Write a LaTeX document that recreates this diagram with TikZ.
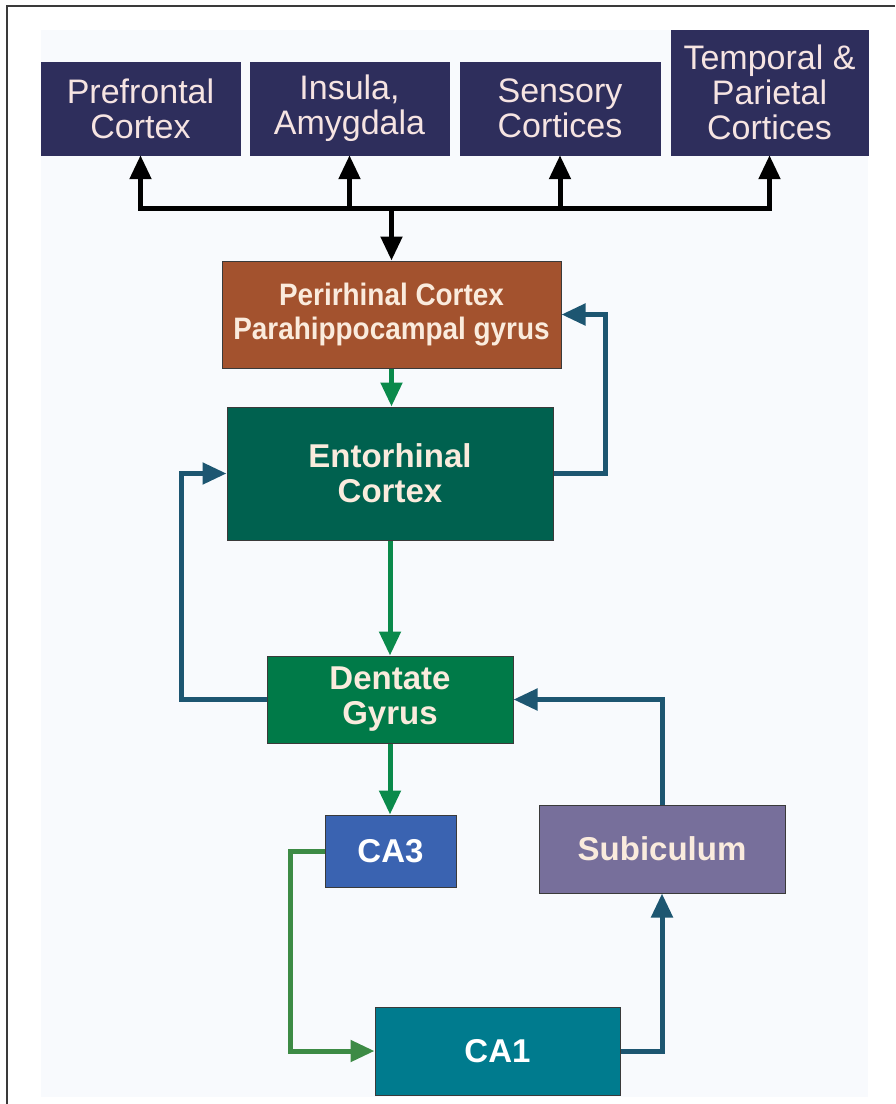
\documentclass[tikz,border=0pt]{standalone}
\usepackage{fontspec}
\setmainfont{Liberation Sans}
\usetikzlibrary{arrows.meta}
\definecolor{navy}{HTML}{2E2E5C}
\definecolor{sienna}{HTML}{A3522E}
\definecolor{entc}{HTML}{00614F}
\definecolor{dentc}{HTML}{007A48}
\definecolor{cathree}{HTML}{3A63B1}
\definecolor{subc}{HTML}{776F9B}
\definecolor{caone}{HTML}{007B8E}
\definecolor{garr}{HTML}{0A8A4B}
\definecolor{garrb}{HTML}{3D8B45}
\definecolor{tarr}{HTML}{1D5671}
\definecolor{cream}{HTML}{FAEBDD}
\definecolor{pinkw}{HTML}{F6E4E2}
\definecolor{bgc}{HTML}{F8FAFD}
\definecolor{edge}{HTML}{3A3A3A}
\tikzset{
  topbox/.style={fill=navy, draw=navy, text=pinkw, align=center, inner sep=0pt,
    font=\fontsize{34}{35}\selectfont},
  hbox/.style={draw=edge, line width=1pt, text=cream, align=center, inner sep=0pt,
    font=\bfseries\fontsize{33}{35}\selectfont},
  conn/.style={line width=5pt, -{Triangle[length=24pt,width=21pt]}},
  blkarrow/.style={conn, draw=black},
  garrow/.style={conn, draw=garr},
  garrowb/.style={conn, draw=garrb},
  tarrow/.style={conn, draw=tarr},
}
\begin{document}
\begin{tikzpicture}[x=1pt,y=-1pt]
\useasboundingbox (0,0) rectangle (895,1104);
\fill[white] (0,0) rectangle (895,1104);
\fill[bgc] (41,30) rectangle (868,1097);
\draw[edge, line width=2pt] (7,1104) -- (7,6) -- (895,6);

% top boxes
\node[topbox, minimum width=199pt, minimum height=93pt] (pfc) at (140.5,108.5) {Prefrontal\\Cortex};
\node[topbox, minimum width=199pt, minimum height=93pt] (ins) at (349.5,108.5) {Insula,\\Amygdala};
\node[topbox, minimum width=200pt, minimum height=93pt] (sen) at (560,108.5) {Sensory\\Cortices};
\node[topbox, minimum width=197pt, minimum height=125pt] (tpc) at (769.5,92.5) {Temporal \&\\Parietal\\Cortices};

% hippocampal boxes
\node[hbox, fill=sienna, minimum width=339pt, minimum height=107pt,
  font=\bfseries\fontsize{31}{34}\selectfont] (per) at (391.5,314.5)
  {\scalebox{0.9}[1]{Perirhinal Cortex}\\\scalebox{0.9}[1]{Parahippocampal gyrus}};
\node[hbox, fill=entc, minimum width=326pt, minimum height=133pt] (ent) at (390,473.5) {Entorhinal\\Cortex};
\node[hbox, fill=dentc, minimum width=246pt, minimum height=87pt] (den) at (390,699.5) {Dentate\\Gyrus};
\node[hbox, fill=cathree, minimum width=131pt, minimum height=72pt, text=white] (ca3) at (390.5,851) {CA3};
\node[hbox, fill=subc, minimum width=246pt, minimum height=88pt] (sub) at (662,849) {Subiculum};
\node[hbox, fill=caone, minimum width=245pt, minimum height=88pt, text=white] (ca1) at (497.5,1051) {CA1};

% bus to cortices
\coordinate (bus) at (391.5,208);
\draw[blkarrow] (bus) -| (pfc.south);
\draw[blkarrow] (bus) -| (ins.south);
\draw[blkarrow] (bus) -| (sen.south);
\draw[blkarrow] (bus) -| (tpc.south);
\draw[blkarrow] (bus) -- (per.north);

% hippocampal connectors
\draw[garrow] (per.south) -- (per.south |- ent.north);
\draw[tarrow] (ent.east) -- ++(52,0) |- (per.east);
\draw[garrow] (ent.south) -- (den.north);
\draw[tarrow] (den.west) -- ++(-85,0) |- (ent.west);
\draw[tarrow] (sub.north) |- (den.east);
\draw[garrow] (den.south) -- (den.south |- ca3.north);
\draw[garrowb] (ca3.west) -- ++(-34,0) |- (ca1.west);
\draw[tarrow] (ca1.east) -| (sub.south);
\end{tikzpicture}
\end{document}
